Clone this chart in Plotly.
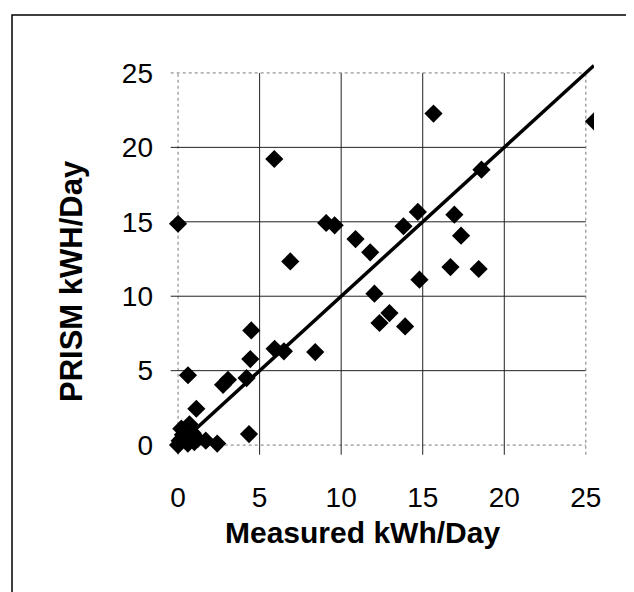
import plotly.graph_objects as go

# ---- data ----
measured = [0.0, 5.9, 15.66, 25.5, 18.6, 9.08, 9.6, 14.7, 13.82, 16.94, 17.35,
            10.88, 11.78, 6.88, 16.7, 18.43, 14.8, 12.04, 12.96, 12.35, 13.92,
            4.49, 4.43, 5.92, 6.49, 8.41, 0.61, 2.76, 3.06, 4.2, 1.12, 4.35,
            0.0, 0.1, 0.3, 0.6, 0.2, 0.7, 0.9, 1.2, 1.7, 2.4, 0.5, 1.0]
prism = [14.87, 19.22, 22.27, 21.75, 18.5, 14.92, 14.76, 15.66, 14.7, 15.48, 14.07,
         13.84, 12.95, 12.34, 11.96, 11.83, 11.11, 10.17, 8.87, 8.2, 7.97,
         7.7, 5.78, 6.47, 6.3, 6.25, 4.69, 4.05, 4.39, 4.5, 2.44, 0.74,
         0.0, 0.3, 0.7, 0.1, 1.1, 1.4, 0.8, 0.4, 0.3, 0.1, 0.5, 0.2]
fit_x = [1.1, 25.5]
fit_y = [1.1, 25.5]
tick_vals = [0, 5, 10, 15, 20, 25]
tick_text = ["0", "5", "10", "15", "20", "25"]
x_title = "Measured kWh/Day"
y_title = "PRISM kWH/Day"

FONT = "Liberation Sans, Arial, sans-serif"
fig = go.Figure()

fig.add_trace(go.Scatter(x=measured, y=prism, mode="markers",
                         marker=dict(symbol="diamond", size=14, color="black",
                                     line=dict(width=0)),
                         cliponaxis=True, showlegend=False))
fig.add_trace(go.Scatter(x=fit_x, y=fit_y, mode="lines",
                         line=dict(color="black", width=3.5),
                         showlegend=False))

lo, hi = tick_vals[0], tick_vals[-1]
shapes = []
for v in tick_vals:
    border = v in (lo, hi)
    style = dict(color="#7a7a7a", width=1, dash="dot") if border else dict(color="#222222", width=1)
    shapes.append(dict(type="line", xref="x", yref="y", x0=v, x1=v, y0=-0.65, y1=hi,
                       line=style, layer="below"))
    shapes.append(dict(type="line", xref="x", yref="y", y0=v, y1=v, x0=-0.45, x1=hi,
                       line=style, layer="below"))
# outer frame of the picture
shapes.append(dict(type="rect", xref="paper", yref="paper",
                   x0=-0.3566, x1=1.1002, y0=-0.3715, y1=1.1247,
                   line=dict(color="black", width=1.5), fillcolor="rgba(0,0,0,0)"))

fig.update_layout(
    width=634, height=592,
    margin=dict(l=157, r=48, t=56, b=143),
    paper_bgcolor="white", plot_bgcolor="white",
    shapes=shapes,
    font=dict(family=FONT, color="black"),
    xaxis=dict(range=[-0.8, 25.5], tickvals=tick_vals, ticktext=tick_text,
               showgrid=False, zeroline=False, showline=False, ticks="",
               tickfont=dict(size=28, family=FONT, color="black"),
               ticklabelstandoff=21),
    yaxis=dict(range=[-0.8, 25.6], tickvals=tick_vals, ticktext=tick_text,
               showgrid=False, zeroline=False, showline=False, ticks="",
               tickfont=dict(size=28, family=FONT, color="black"),
               ticklabelstandoff=11),
    annotations=[
        dict(text="<b>%s</b>" % x_title, xref="paper", yref="paper",
             x=(354 - 157) / 429, y=(449 - 524) / 393, xanchor="center", yanchor="middle",
             showarrow=False, font=dict(size=30, family=FONT, color="black")),
        dict(text="<b>%s</b>" % y_title, xref="paper", yref="paper",
             x=(63 - 157) / 429, y=(449 - 273) / 393, xanchor="center", yanchor="middle",
             textangle=-90, showarrow=False, font=dict(size=31, family=FONT, color="black")),
    ],
)

fig.write_html("out.html")
